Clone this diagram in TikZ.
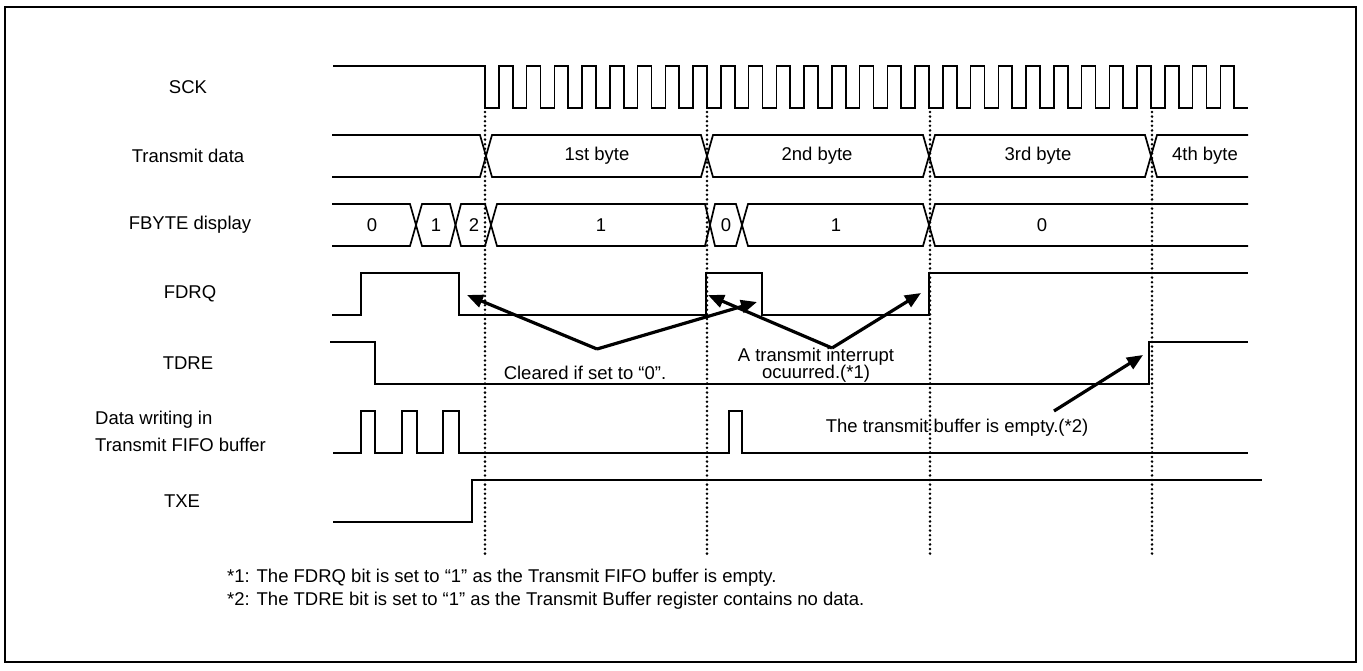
\documentclass[tikz,border=0pt]{standalone}
\usepackage{fontspec}
\setmainfont{Liberation Sans}
\usetikzlibrary{arrows.meta}
\begin{document}
\begin{tikzpicture}[x=1pt,y=-1pt,
  sig/.style={line width=1.7pt, line join=miter},
  vline/.style={line width=2.8pt, dash pattern=on 0pt off 4.6pt, line cap=round},
  arr/.style={line width=3.2pt, -{Triangle[length=16pt,width=13pt]}},
  lbl/.style={font=\fontsize{18.5}{20}\selectfont, inner sep=0pt},
]
\useasboundingbox (0,0) rectangle (1363,670);
\draw[line width=2.2pt] (5,7) rectangle (1356,662);

% signal names
\node[lbl] (lsck) at (188,87) {SCK};
\node[lbl] (ltd) at (188,156) {Transmit data};
\node[lbl] (lfb) at (190,225) {FBYTE display};
\node[lbl] (lfdrq) at (190,294) {FDRQ};
\node[lbl] (ltdre) at (188,363) {TDRE};
\node[lbl, anchor=west] (ldw1) at (95,420) {Data writing in};
\node[lbl, anchor=west] (ldw2) at (95,445) {Transmit FIFO buffer};
\node[lbl] (ltxe) at (182,501) {TXE};

% SCK
\draw[sig] (333,66) -- (485,66) -- (485,108)
  \foreach \k in {0,...,26} { -- ({485+(\k+0.5)*27.75},108) -- ({485+(\k+0.5)*27.75},66)
     -- ({485+(\k+1)*27.75},66) -- ({485+(\k+1)*27.75},108) } -- (1248,108);

% Transmit data bus
\draw[sig] (332,135) -- (480,135) -- (492,177) -- (701,177) -- (713,135) -- (923,135) -- (935,177) -- (1145,177) -- (1157,135) -- (1248,135);
\draw[sig] (332,177) -- (480,177) -- (492,135) -- (701,135) -- (713,177) -- (923,177) -- (935,135) -- (1145,135) -- (1157,177) -- (1248,177);
\node[lbl] (b1) at (597,156) {1st byte};
\node[lbl] (b2) at (817,156) {2nd byte};
\node[lbl] (b3) at (1038,156) {3rd byte};
\node[lbl] (b4) at (1205,156) {4th byte};

% FBYTE display bus
\draw[sig] (332,204) -- (410,204) -- (422,246) -- (450,246) -- (461,204) -- (485,204) -- (497,246) -- (705,246) -- (715,204) -- (736,204) -- (748,246) -- (923,246) -- (935,204) -- (1248,204);
\draw[sig] (332,246) -- (410,246) -- (422,204) -- (450,204) -- (461,246) -- (485,246) -- (497,204) -- (705,204) -- (715,246) -- (736,246) -- (748,204) -- (923,204) -- (935,246) -- (1248,246);
\node[lbl] (f1) at (372,225) {0};
\node[lbl] (f2) at (436,225) {1};
\node[lbl] (f3) at (474,225) {2};
\node[lbl] (f4) at (601,225) {1};
\node[lbl] (f5) at (726,225) {0};
\node[lbl] (f6) at (836,225) {1};
\node[lbl] (f7) at (1042,225) {0};

% FDRQ
\draw[sig] (332,315) -- (361,315) -- (361,273) -- (459,273) -- (459,315) -- (706,315) -- (706,273) -- (762,273) -- (762,315) -- (929,315) -- (929,273) -- (1248,273);

% TDRE
\draw[sig] (330,342) -- (375,342) -- (375,384) -- (1149,384) -- (1149,342) -- (1248,342);

% Data writing
\draw[sig] (333,453) -- (361,453) -- (361,411) -- (375,411) -- (375,453) -- (402,453) -- (402,411) -- (417,411) -- (417,453) -- (443,453) -- (443,411) -- (459,411) -- (459,453) -- (729,453) -- (729,411) -- (742,411) -- (742,453) -- (1248,453);

% TXE
\draw[sig] (333,522) -- (472,522) -- (472,480) -- (1262,480);

% dotted guide lines
\foreach \x in {485,707,930,1152} \draw[vline] (\x,112) -- (\x,555);

% annotations
\node[lbl] (tclr) at (585,373) {Cleared if set to “0”.};
\node[lbl] (tint1) at (816,357) {A transmit interrupt};
\node[lbl] (tint2) at (816,374) {ocuurred.(*1)};
\node[lbl] (temp) at (957,428) {The transmit buffer is empty.(*2)};

\coordinate (cv) at (597,349);
\coordinate (ct1) at (467,295);
\coordinate (ct2) at (757,302);
\coordinate (iv) at (832,348);
\coordinate (it1) at (708,295);
\coordinate (it2) at (921,293);
\coordinate (es) at (1054,411);
\coordinate (et) at (1143,355);
\draw[arr] (cv) -- (ct1);
\draw[arr] (cv) -- (ct2);
\draw[arr] (iv) -- (it1);
\draw[arr] (iv) -- (it2);
\draw[arr] (es) -- (et);

% footnotes
\node[lbl, anchor=west] (n1) at (227,578) {*1: The FDRQ bit is set to “1” as the Transmit FIFO buffer is empty.};
\node[lbl, anchor=west] (n2) at (227,601) {*2: The TDRE bit is set to “1” as the Transmit Buffer register contains no data.};
\end{tikzpicture}
\end{document}
